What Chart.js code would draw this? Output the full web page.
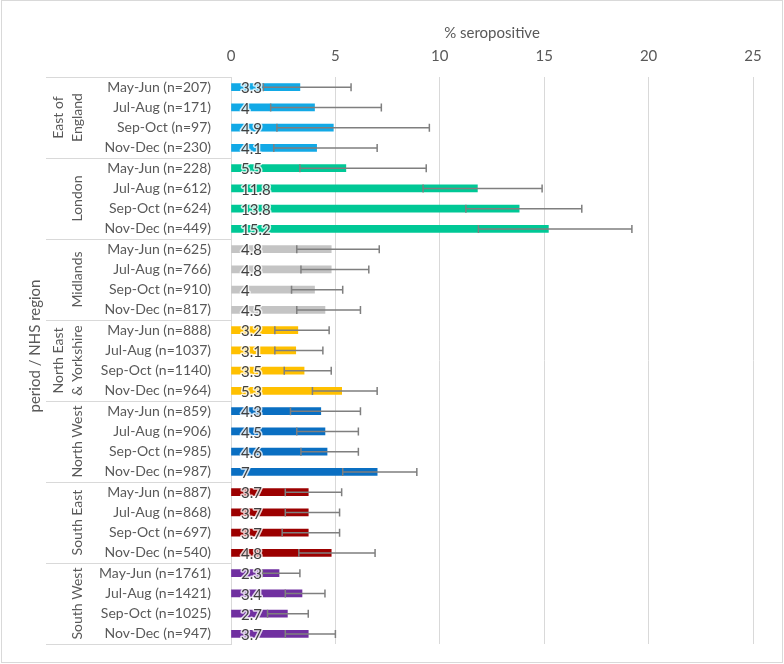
<!DOCTYPE html>
<html>
<head>
<meta charset="utf-8">
<script src="https://cdn.jsdelivr.net/npm/chart.js@4"></script>
<style>
  html, body { margin: 0; padding: 0; background: #fff; }
  #wrap { width: 784px; height: 664px; position: relative; }
</style>
</head>
<body>
<div id="wrap"><canvas id="seroChart"></canvas></div>
<script>
// --- DATA ---
const regions = ['East of England', 'London', 'Midlands', 'North East & Yorkshire', 'North West', 'South East', 'South West'];
const regionLines = [['East of', 'England'], ['London'], ['Midlands'], ['North East', '& Yorkshire'], ['North West'], ['South East'], ['South West']];
const periods = ['May-Jun', 'Jul-Aug', 'Sep-Oct', 'Nov-Dec'];
const sampleSizes = [
    [207, 171, 97, 230],
    [228, 612, 624, 449],
    [625, 766, 910, 817],
    [888, 1037, 1140, 964],
    [859, 906, 985, 987],
    [887, 868, 697, 540],
    [1761, 1421, 1025, 947]
];
const seropositive = [
    3.3, 4, 4.9, 4.1,
    5.5, 11.8, 13.8, 15.2,
    4.8, 4.8, 4, 4.5,
    3.2, 3.1, 3.5, 5.3,
    4.3, 4.5, 4.6, 7,
    3.7, 3.7, 3.7, 4.8,
    2.3, 3.4, 2.7, 3.7
];
const ciLower = [
    1.55, 1.9, 2.2, 2.05,
    3.3, 9.2, 11.25, 11.85,
    3.15, 3.35, 2.9, 3.15,
    2.1, 2.1, 2.55, 3.9,
    2.85, 3.15, 3.35, 5.35,
    2.6, 2.6, 2.45, 3.25,
    1.5, 2.6, 1.75, 2.6
];
const ciUpper = [
    5.75, 7.2, 9.5, 7.0,
    9.35, 14.9, 16.8, 19.2,
    7.1, 6.6, 5.35, 6.2,
    4.7, 4.4, 4.8, 7.0,
    6.2, 6.1, 6.1, 8.9,
    5.3, 5.2, 5.2, 6.9,
    3.3, 4.5, 3.7, 5.0
];
const regionColors = ['#12A9E6', '#00C896', '#C4C4C4', '#FFC000', '#0A6FC2', '#9C0000', '#7030A0'];

// build row labels + colours
const rowLabels = [];
const rowColors = [];
regions.forEach((r, g) => {
    periods.forEach((p, i) => {
        rowLabels.push(`${p} (n=${sampleSizes[g][i]})`);
        rowColors.push(regionColors[g]);
    });
});

const FONT = 'Lato, "Open Sans", sans-serif';
const GREY = '#595959';
const LINE = '#D9D9D9';

// error bars + data labels
const barExtras = {
    id: 'barExtras',
    afterDatasetsDraw(chart) {
        const ctx = chart.ctx;
        const xs = chart.scales.x, ys = chart.scales.y;
        ctx.save();
        ctx.strokeStyle = '#7F7F7F';
        ctx.lineWidth = 1.5;
        seropositive.forEach((v, i) => {
            const y = ys.getPixelForValue(i);
            const x1 = xs.getPixelForValue(ciLower[i]);
            const x2 = xs.getPixelForValue(ciUpper[i]);
            ctx.beginPath();
            ctx.moveTo(x1, y); ctx.lineTo(x2, y);
            ctx.moveTo(x1, y - 4); ctx.lineTo(x1, y + 4);
            ctx.moveTo(x2, y - 4); ctx.lineTo(x2, y + 4);
            ctx.stroke();
        });
        // labels
        ctx.font = '15px ' + FONT;
        ctx.textAlign = 'left';
        ctx.textBaseline = 'middle';
        ctx.lineJoin = 'round';
        seropositive.forEach((v, i) => {
            const y = ys.getPixelForValue(i) + 1.5;
            const x = xs.getPixelForValue(0) + 10;
            ctx.strokeStyle = 'rgba(255,255,255,0.8)';
            ctx.lineWidth = 3;
            ctx.strokeText(String(v), x, y);
            ctx.fillStyle = '#404040';
            ctx.fillText(String(v), x, y);
        });
        ctx.restore();
    },
    afterDraw(chart) {
        const ctx = chart.ctx;
        const area = chart.chartArea;
        const rowH = (area.bottom - area.top) / rowLabels.length;
        ctx.save();
        // group divider lines
        ctx.strokeStyle = LINE;
        ctx.lineWidth = 1;
        for (let g = 0; g <= regions.length; g++) {
            const y = Math.round(area.top + g * 4 * rowH) + 0.5;
            ctx.beginPath();
            ctx.moveTo(46, y); ctx.lineTo(area.left, y);
            ctx.stroke();
        }
        // region labels (rotated)
        ctx.fillStyle = GREY;
        ctx.font = '14px ' + FONT;
        ctx.textAlign = 'center';
        ctx.textBaseline = 'middle';
        regionLines.forEach((lines, g) => {
            const cy = area.top + (g * 4 + 2) * rowH;
            const xsPos = lines.length === 2 ? [58, 77] : [77];
            lines.forEach((t, k) => {
                ctx.save();
                ctx.translate(xsPos[k], cy);
                ctx.rotate(-Math.PI / 2);
                ctx.fillText(t, 0, 0);
                ctx.restore();
            });
        });
        // axis title
        ctx.font = '15px ' + FONT;
        ctx.save();
        ctx.translate(35, 346);
        ctx.rotate(-Math.PI / 2);
        ctx.fillText('period / NHS region', 0, 0);
        ctx.restore();
        // chart border
        ctx.strokeStyle = LINE;
        ctx.strokeRect(1.5, 0.5, 781, 662);
        ctx.restore();
    }
};

const ctxSero = document.getElementById('seroChart').getContext('2d');
new Chart(ctxSero, {
    type: 'bar',
    data: {
        labels: rowLabels,
        datasets: [{
            data: seropositive,
            backgroundColor: rowColors,
            borderWidth: 0,
            barThickness: 7
        }]
    },
    options: {
        indexAxis: 'y',
        responsive: true,
        maintainAspectRatio: false,
        animation: false,
        layout: { padding: { top: 0, left: 0, right: 31, bottom: 20 } },
        scales: {
            x: {
                position: 'top',
                min: 0,
                max: 25,
                ticks: { stepSize: 5, color: GREY, font: { family: FONT, size: 15 }, padding: 12 },
                grid: { color: LINE, drawTicks: false },
                border: { display: false },
                title: { display: true, text: '% seropositive', color: GREY, font: { family: FONT, size: 15 }, padding: { top: 24, bottom: 0 } },
                afterFit: (s) => { s.height = 77; }
            },
            y: {
                ticks: { color: GREY, font: { family: FONT, size: 14 }, padding: 20, autoSkip: false },
                grid: { display: false, drawTicks: false },
                border: { color: LINE },
                afterFit: (s) => { s.width = 231; s.paddingTop = 0; s.paddingBottom = 0; }
            }
        },
        plugins: {
            legend: { display: false },
            tooltip: { enabled: false }
        }
    },
    plugins: [barExtras]
});
</script>
</body>
</html>
